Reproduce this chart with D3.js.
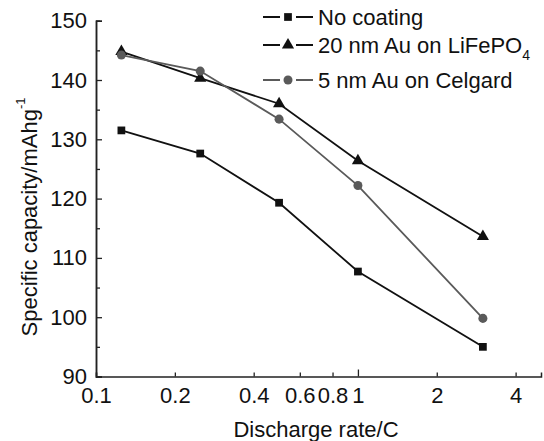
<!DOCTYPE html>
<html>
<head>
<meta charset="utf-8">
<script src="https://cdn.jsdelivr.net/npm/d3@7"></script>
<style>
  body { margin: 0; background: #fff; }
  text { font-family: "Liberation Sans", Arial, sans-serif; fill: #111; }
</style>
</head>
<body>
<div class="chart"></div>
<script>
// discharge rates (C) and capacities (mAh/g)
var rates = [0.125, 0.25, 0.5, 1, 3];
var noCoating = [131.5, 127.6, 119.3, 107.7, 95.0];
var auLiFePO4 = [144.8, 140.3, 136.0, 126.4, 113.6];
var auCelgard = [144.2, 141.5, 133.4, 122.2, 99.8];

var xTicks = [0.1, 0.2, 0.4, 0.6, 0.8, 1, 2, 4];
var yTicks = [90, 100, 110, 120, 130, 140, 150];
var yMinorTicks = [95, 105, 115, 125, 135, 145];

var seriesNames = ["No coating", "20 nm Au on LiFePO", "5 nm Au on Celgard"];

var svgWidth = 544;
var svgHeight = 441;

var margin = { top: 20.7, right: 3, bottom: 64.5, left: 96 };
var width = svgWidth - margin.left - margin.right;
var height = svgHeight - margin.top - margin.bottom;

var svg = d3.select(".chart")
  .append("svg")
  .attr("width", svgWidth)
  .attr("height", svgHeight);

var chartGroup = svg.append("g")
  .attr("transform", `translate(${margin.left}, ${margin.top})`);

var xLogScale = d3.scaleLog().domain([0.1, 5]).range([0, width]);
var yLinearScale = d3.scaleLinear().domain([90, 150]).range([height, 0]);

// axes, ticks pointing inward
var bottomAxis = d3.axisBottom(xLogScale)
  .tickValues(xTicks)
  .tickFormat(d3.format("~g"))
  .tickSize(-4)
  .tickPadding(11);

var xAxisG = chartGroup.append("g")
  .attr("transform", `translate(0, ${height})`)
  .call(bottomAxis);

xAxisG.selectAll(".tick line")
  .attr("y2", function(d) { return d === 1 ? -7 : -4; });

var leftAxis = d3.axisLeft(yLinearScale)
  .tickValues(yTicks)
  .tickSize(-6)
  .tickPadding(9);

var yAxisG = chartGroup.append("g").call(leftAxis);

var yMinor = d3.axisLeft(yLinearScale)
  .tickValues(yMinorTicks)
  .tickSize(-4)
  .tickFormat("");

chartGroup.append("g").call(yMinor);

chartGroup.selectAll(".domain")
  .attr("stroke", "#222")
  .attr("stroke-width", 1.5);
chartGroup.selectAll(".tick line")
  .attr("stroke", "#222")
  .attr("stroke-width", 1.3);
chartGroup.selectAll(".tick text")
  .attr("font-size", "22px")
  .attr("fill", "#111")
  .style("font-family", "Liberation Sans, Arial, sans-serif");

var lineGen = d3.line()
  .x(function(d) { return xLogScale(d[0]); })
  .y(function(d) { return yLinearScale(d[1]); });

var series = [
  { values: noCoating, color: "#111", marker: "square" },
  { values: auLiFePO4, color: "#111", marker: "triangle" },
  { values: auCelgard, color: "#5a5a5a", marker: "circle" }
];

var symbolFor = {
  square: d3.symbol().type(d3.symbolSquare).size(60),
  triangle: d3.symbol().type(d3.symbolTriangle).size(64),
  circle: d3.symbol().type(d3.symbolCircle).size(64)
};

series.forEach(function(s) {
  var pts = rates.map(function(r, i) { return [r, s.values[i]]; });

  chartGroup.append("path")
    .datum(pts)
    .attr("d", lineGen)
    .attr("fill", "none")
    .attr("stroke", s.color)
    .attr("stroke-width", 1.8);

  chartGroup.selectAll(".pt-" + s.marker)
    .data(pts)
    .enter()
    .append("path")
    .attr("class", "pt-" + s.marker)
    .attr("d", symbolFor[s.marker])
    .attr("transform", function(d) {
      return `translate(${xLogScale(d[0])}, ${yLinearScale(d[1])})`;
    })
    .attr("fill", s.color);
});

// legend
var legendRows = [17, 45, 80];
var legend = svg.append("g");

series.forEach(function(s, i) {
  var ly = legendRows[i];
  legend.append("line")
    .attr("x1", 263).attr("x2", 313)
    .attr("y1", ly).attr("y2", ly)
    .attr("stroke", s.color)
    .attr("stroke-width", 1.8);
  legend.append("rect")
    .attr("x", 280).attr("y", ly - 6)
    .attr("width", 16).attr("height", 12)
    .attr("fill", "#fff");
  legend.append("path")
    .attr("d", symbolFor[s.marker])
    .attr("transform", `translate(288, ${ly})`)
    .attr("fill", s.color);
  var t = legend.append("text")
    .attr("x", 318)
    .attr("y", ly)
    .attr("dy", "0.35em")
    .attr("font-size", "22px")
    .text(seriesNames[i]);
  if (i === 1) {
    t.append("tspan")
      .attr("font-size", "14px")
      .attr("dy", "0.5em")
      .text("4");
  }
});

// axis titles
var yTitle = svg.append("text")
  .attr("transform", "translate(37, 217) rotate(-90)")
  .attr("text-anchor", "middle")
  .attr("font-size", "22px")
  .text("Specific capacity/mAhg");
yTitle.append("tspan")
  .attr("font-size", "13px")
  .attr("dy", "-0.9em")
  .text("-1");

svg.append("text")
  .attr("x", 316)
  .attr("y", 437)
  .attr("text-anchor", "middle")
  .attr("font-size", "22px")
  .text("Discharge rate/C");
</script>
</body>
</html>
